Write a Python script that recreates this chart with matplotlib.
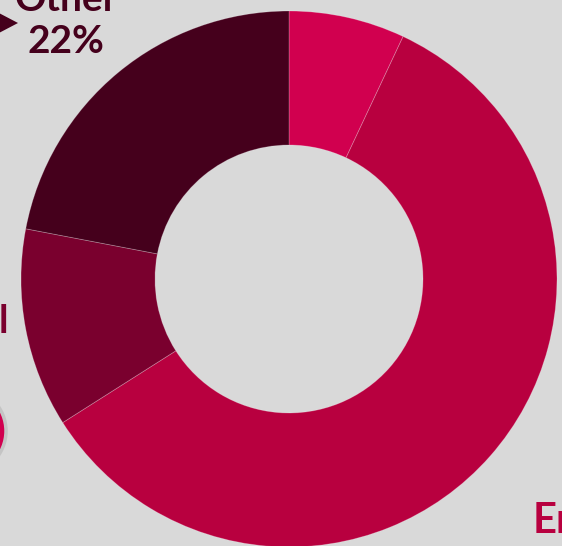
import matplotlib
matplotlib.use("Agg")
import matplotlib.pyplot as plt
from matplotlib.patches import Circle, Polygon

# Share of total by segment (percent), clockwise from 12 o'clock
segments = ["Other (small)", "Energy", "Industrial", "Other"]
shares = [7, 59, 12, 22]
colors = ["#D1004F", "#B8003F", "#7A002E", "#45001C"]

BG = "#D9D9D9"
W, H = 562, 546

fig = plt.figure(figsize=(W / 100, H / 100), dpi=100, facecolor=BG)
ax = fig.add_axes([0, 0, 1, 1])
ax.set_facecolor(BG)

cx, cy, R = 289, H - 279, 268
ax.pie(shares, colors=colors, startangle=90, counterclock=False,
       radius=R, center=(cx, cy), frame=True,
       wedgeprops=dict(width=R * 0.5, edgecolor=(1, 1, 1, 0.25), linewidth=0.6))

ax.set_xlim(0, W)
ax.set_ylim(0, H)
ax.set_aspect("equal")
ax.axis("off")

font = ["Lato", "DejaVu Sans"]

# "Other" label with pointer
ax.text(66, H - 11, "Other", ha="center", va="baseline", fontsize=28,
        fontweight="bold", color=colors[3], family=font)
ax.text(66, H - 53, f"{shares[3]}%", ha="center", va="baseline", fontsize=28,
        fontweight="bold", color=colors[3], family=font)
ax.add_patch(Polygon([(-3, H - 12), (18, H - 23), (-3, H - 34)], closed=True,
                     facecolor=colors[3], edgecolor="none"))

# "Industrial" label (runs off the left edge)
ax.text(9, H - 333, "Industrial", ha="right", va="baseline", fontsize=28,
        fontweight="bold", color=colors[2], family=font)

# "Energy" label (runs off the right edge)
ax.text(533, H - 533, "Energy", ha="left", va="baseline", fontsize=30,
        fontweight="bold", color=colors[1], family=font)

# Round marker at the left edge
ax.add_patch(Circle((-37, H - 431), 43, facecolor=colors[0],
                    edgecolor="#C4C4C4", linewidth=2.5, clip_on=True))

fig.savefig("out.png", dpi=100, facecolor=BG)
